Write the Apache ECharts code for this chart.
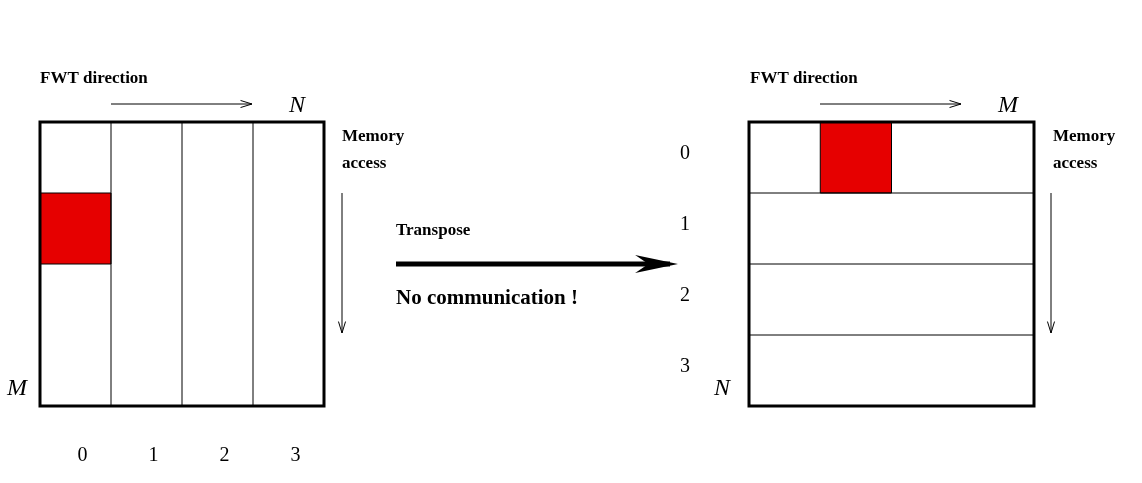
<!DOCTYPE html>
<html>
<head>
<meta charset="utf-8">
<script src="https://cdn.jsdelivr.net/npm/echarts@6/dist/echarts.min.js"></script>
<style>html,body{margin:0;padding:0;background:#fff}#chart{width:1142px;height:483px}</style>
</head>
<body>
<div id="chart"></div>
<script>
// blocks: 4x4 matrix split into columns (left) and rows (right)
const indexLabels = ['0', '1', '2', '3'];
const dividers = [1, 2, 3];
const leftRed = [0, 1];   // [col, row]
const rightRed = [1, 0];

const chart = echarts.init(document.getElementById('chart'));
const serif = '"Liberation Serif", "DejaVu Serif", serif';
const bold = { fontFamily: serif, fontWeight: 'bold', fontSize: 17, fill: '#000' };
const ital = { fontFamily: serif, fontStyle: 'italic', fontSize: 24, fill: '#000' };

// rect/line/text items: [kind, x0, y0, x1, y1, text]
function items(orient, red) {
  const d = [['red', red[0], red[1], red[0] + 1, red[1] + 1]];
  dividers.forEach(v => d.push(orient === 'col' ? ['line', v, 0, v, 4] : ['line', 0, v, 4, v]));
  d.push(['box', 0, 0, 4, 4]);
  indexLabels.forEach((t, i) => d.push(orient === 'col'
    ? ['text', i + 0.6, 4.7, 0, 0, t] : ['text', -0.9, i + 0.45, 0, 0, t]));
  return d;
}

function renderItem(params, api) {
  const it = params.dataIndex;
  const d = this_data[params.seriesIndex][it];
  const p0 = api.coord([d[1], d[2]]);
  const p1 = api.coord([d[3], d[4]]);
  if (d[0] === 'text') {
    return { type: 'text', style: { x: p0[0], y: p0[1], text: d[5], textAlign: 'center', textVerticalAlign: 'middle', font: '20px ' + serif, fill: '#000' } };
  }
  if (d[0] === 'line') {
    return { type: 'line', shape: { x1: p0[0], y1: p0[1], x2: p1[0], y2: p1[1] }, style: { stroke: '#000', lineWidth: 1 } };
  }
  const shape = { x: p0[0], y: p0[1], width: p1[0] - p0[0], height: p1[1] - p0[1] };
  if (d[0] === 'red') return { type: 'rect', shape, style: { fill: '#e60000', stroke: '#000', lineWidth: 1 } };
  return { type: 'rect', shape, style: { fill: 'none', stroke: '#000', lineWidth: 3 } };
}

const this_data = [items('col', leftRed), items('row', rightRed)];

function arrow(x1, y1, x2, y2, w, head) {
  const ang = Math.atan2(y2 - y1, x2 - x1);
  const hx = (a) => x2 - head * Math.cos(ang + a), hy = (a) => y2 - head * Math.sin(ang + a);
  const els = [{ type: 'line', shape: { x1, y1, x2, y2 }, style: { stroke: '#000', lineWidth: w } }];
  if (w > 2) {
    els.push({ type: 'polygon', shape: { points: [[x2 + 8, y2], [hx(0.25), hy(0.25)], [x2 - head * 0.6, y2], [hx(-0.25), hy(-0.25)]] }, style: { fill: '#000' } });
  } else {
    els.push({ type: 'polyline', shape: { points: [[hx(0.3), hy(0.3)], [x2, y2], [hx(-0.3), hy(-0.3)]] }, style: { stroke: '#000', lineWidth: 1, fill: 'none' } });
  }
  return els;
}

const axisOff = { type: 'value', min: 0, max: 4, show: false };
chart.setOption({
  animation: false,
  grid: [
    { left: 40, top: 122, width: 284, height: 284 },
    { left: 749, top: 122, width: 285, height: 284 }
  ],
  xAxis: [Object.assign({ gridIndex: 0 }, axisOff), Object.assign({ gridIndex: 1 }, axisOff)],
  yAxis: [Object.assign({ gridIndex: 0, inverse: true }, axisOff), Object.assign({ gridIndex: 1, inverse: true }, axisOff)],
  series: [
    { type: 'custom', xAxisIndex: 0, yAxisIndex: 0, data: this_data[0].map((d, i) => i), renderItem, clip: false },
    { type: 'custom', xAxisIndex: 1, yAxisIndex: 1, data: this_data[1].map((d, i) => i), renderItem, clip: false }
  ],
  graphic: [
    { type: 'text', left: 40, top: 70, style: Object.assign({ text: 'FWT direction' }, bold) },
    { type: 'text', left: 289, top: 94, style: Object.assign({ text: 'N' }, ital) },
    { type: 'text', left: 7, top: 377, style: Object.assign({ text: 'M' }, ital) },
    { type: 'text', left: 342, top: 123, style: Object.assign({ text: 'Memory\naccess', lineHeight: 27 }, bold) },
    { type: 'text', left: 396, top: 222, style: Object.assign({ text: 'Transpose' }, bold) },
    { type: 'text', left: 396, top: 288, style: Object.assign({}, bold, { text: 'No communication !', fontSize: 21 }) },
    { type: 'text', left: 750, top: 70, style: Object.assign({ text: 'FWT direction' }, bold) },
    { type: 'text', left: 998, top: 94, style: Object.assign({ text: 'M' }, ital) },
    { type: 'text', left: 714, top: 377, style: Object.assign({ text: 'N' }, ital) },
    { type: 'text', left: 1053, top: 123, style: Object.assign({ text: 'Memory\naccess', lineHeight: 27 }, bold) }
  ].concat(
    arrow(111, 104, 252, 104, 1, 12),
    arrow(342, 193, 342, 333, 1, 12),
    arrow(396, 264, 670, 264, 5, 36),
    arrow(820, 104, 961, 104, 1, 12),
    arrow(1051, 193, 1051, 333, 1, 12)
  )
});
</script>
</body>
</html>
